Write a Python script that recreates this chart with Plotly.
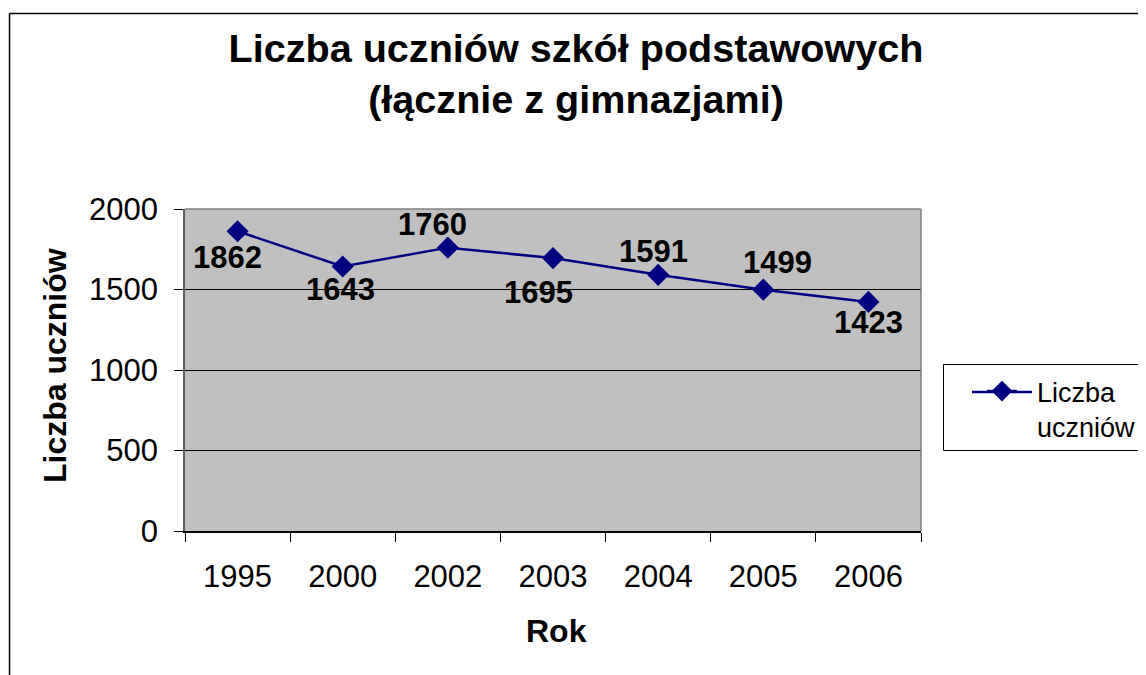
import plotly.graph_objects as go

years = ["1995", "2000", "2002", "2003", "2004", "2005", "2006"]
students = [1862, 1643, 1760, 1695, 1591, 1499, 1423]
y_ticks = [0, 500, 1000, 1500, 2000]

# label offsets (pixels) for data labels, style only
label_dx = [-10, -2, -15, -15, -5, 14, 0]
label_dy = [-26, -23, 23, -34, 23, 27, -21]

FONT = "Arial, Liberation Sans, sans-serif"
NAVY = "#000080"
OFF = 8  # page body margin
W, H = 1146 - OFF, 675 - OFF
# plot area in screen pixels
SL, SR, ST, SB = 185, 921, 209, 531
L, R, T, B = SL - OFF, SR - OFF, ST - OFF, SB - OFF
PW, PH = R - L, B - T

def px(x):  # screen x -> paper
    return (x - OFF - L) / PW

def py(y):  # screen y -> paper
    return (B - (y - OFF)) / PH

fig = go.Figure()
fig.add_trace(go.Scatter(
    x=years, y=students, mode="lines+markers",
    name="&nbsp;&nbsp;Liczba<br>&nbsp;&nbsp;uczniów",
    line=dict(color=NAVY, width=2.5),
    marker=dict(symbol="diamond", size=17, color=NAVY),
))

annotations = []
for i, (v, dx, dy) in enumerate(zip(students, label_dx, label_dy)):
    annotations.append(dict(
        x=i, y=v, xref="x", yref="y", text=f"<b>{v}</b>", showarrow=False,
        xshift=dx, yshift=dy, font=dict(family=FONT, size=31, color="black"),
        xanchor="center", yanchor="middle"))

annotations.append(dict(
    x=px(55), y=py(366), xref="paper", yref="paper", text="<b>Liczba uczniów</b>",
    textangle=-90, showarrow=False, xanchor="center", yanchor="middle",
    font=dict(family=FONT, size=32, color="black")))
annotations.append(dict(
    x=px(556), y=py(631), xref="paper", yref="paper", text="<b>Rok</b>",
    showarrow=False, xanchor="center", yanchor="middle",
    font=dict(family=FONT, size=32, color="black")))

shapes = [
    # outer chart border (left and top visible)
    dict(type="line", xref="paper", yref="paper", x0=px(9.5), x1=px(9.5),
         y0=py(13.5), y1=py(700), line=dict(color="black", width=1.5)),
    dict(type="line", xref="paper", yref="paper", x0=px(9.5), x1=px(1200),
         y0=py(13.5), y1=py(13.5), line=dict(color="black", width=1.5)),
    # plot area border (top/right)
    dict(type="line", xref="paper", yref="paper", x0=0, x1=1, y0=1, y1=1,
         line=dict(color="#808080", width=1.5)),
    dict(type="line", xref="paper", yref="paper", x0=1, x1=1, y0=0, y1=1,
         line=dict(color="#808080", width=1.5)),
    # legend box
    dict(type="rect", xref="paper", yref="paper", x0=px(943.5), x1=px(1150),
         y0=py(450.5), y1=py(364.5), line=dict(color="black", width=1)),
    # longer legend sample line (Excel style)
    dict(type="line", xref="paper", yref="paper", x0=px(972), x1=px(1032),
         y0=py(392), y1=py(392), line=dict(color=NAVY, width=2.5)),
]

fig.update_layout(
    width=W, height=H,
    margin=dict(l=L, r=W - R, t=T, b=H - B, pad=0, autoexpand=False),
    paper_bgcolor="white", plot_bgcolor="#C0C0C0",
    font=dict(family=FONT, color="black"),
    title=dict(text="<b>Liczba uczniów szkół podstawowych<br>(łącznie z gimnazjami)</b>",
               xref="container", yref="container", x=(576 - OFF) / W,
               y=1 - (62 - OFF) / H,
               xanchor="center", yanchor="middle",
               font=dict(family=FONT, size=39.6, color="black")),
    showlegend=True,
    legend=dict(xref="container", yref="container", x=(982 - OFF) / W,
                y=1 - (367 - OFF) / H,
                xanchor="left", yanchor="top", valign="top",
                bgcolor="rgba(0,0,0,0)", borderwidth=0,
                font=dict(family=FONT, size=27, color="black")),
    annotations=annotations,
    shapes=shapes,
)

fig.update_xaxes(type="category", range=[-0.5, len(years) - 0.5], autorange=False,
                 showgrid=False, ticks="outside", tickson="boundaries",
                 ticklen=9, tickcolor="black", tickwidth=1,
                 showline=True, linecolor="black", linewidth=1.5,
                 tickfont=dict(family=FONT, size=31, color="black"), tickangle=0,
                 ticklabelstandoff=17, zeroline=False, automargin=False)
fig.update_yaxes(range=[0, 2000], autorange=False, tickvals=y_ticks,
                 ticktext=[str(t) for t in y_ticks],
                 showgrid=True, gridcolor="black", gridwidth=1,
                 ticks="outside", ticklen=9, tickcolor="black", tickwidth=1,
                 showline=True, linecolor="#606060", linewidth=1.5,
                 tickfont=dict(family=FONT, size=31, color="black"),
                 ticklabelstandoff=10, zeroline=False, automargin=False)

fig.write_html("out.html")
